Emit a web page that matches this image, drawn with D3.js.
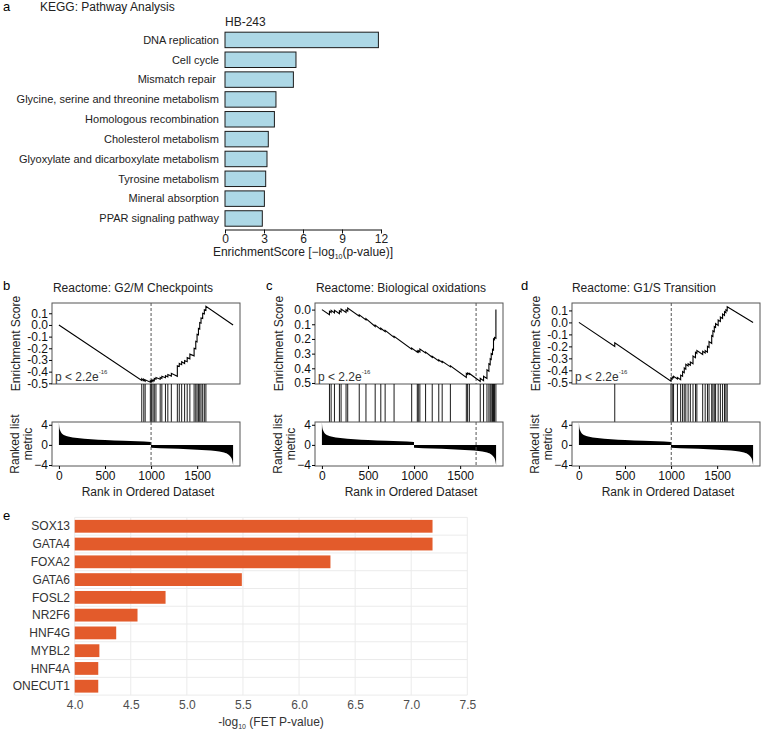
<!DOCTYPE html>
<html>
<head>
<meta charset="utf-8">
<script src="https://cdn.jsdelivr.net/npm/d3@7"></script>
<style>
  body { margin: 0; background: #fff; }
  svg { display: block; font-family: "Liberation Sans", Arial, Helvetica, sans-serif; }
</style>
</head>
<body>
<div id="fig"></div>
<script>
// ---- panel a: KEGG pathways ----
const keggPathways = [
  'DNA replication', 'Cell cycle', 'Mismatch repair ',
  'Glycine, serine and threonine metabolism', 'Homologous recombination',
  'Cholesterol metabolism', 'Glyoxylate and dicarboxylate metabolism',
  'Tyrosine metabolism', 'Mineral absorption', 'PPAR signaling pathway'
];
const keggScores = [11.8, 5.46, 5.26, 3.92, 3.8, 3.33, 3.23, 3.13, 3.03, 2.87];
const keggTicks = [0, 3, 6, 9, 12];

// ---- panel e: TF enrichment ----
const tfNames = ['SOX13', 'GATA4', 'FOXA2', 'GATA6', 'FOSL2', 'NR2F6', 'HNF4G', 'MYBL2', 'HNF4A', 'ONECUT1'];
const tfScores = [7.19, 7.19, 6.28, 5.49, 4.81, 4.56, 4.37, 4.22, 4.21, 4.21];
const tfTicks = [4.0, 4.5, 5.0, 5.5, 6.0, 6.5, 7.0, 7.5];

// ---- GSEA shared: ranked list metric ----
const rankTicks = [0, 500, 1000, 1500];
const metricRanks  = [0, 5, 15, 30, 60, 100, 200, 350, 500, 700, 999, 1000, 1200, 1400, 1600, 1700, 1780, 1830, 1860, 1880, 1890];
const metricValues = [4.5, 3.4, 2.8, 2.3, 1.9, 1.65, 1.35, 1.1, 0.95, 0.8, 0.55, -0.55, -0.7, -0.85, -1.05, -1.2, -1.45, -1.8, -2.3, -3.0, -4.0];
const metricTicks = [4, 0, -4];

// ---- panel b: G2/M checkpoints ----
const g2mHits = [899, 921, 936, 992, 1006, 1021, 1035, 1053, 1099, 1117, 1156, 1182, 1220, 1285,
  1306, 1332, 1364, 1392, 1421, 1467, 1485, 1499, 1514, 1528, 1542, 1560, 1578, 1595];
const g2mCurve = [
  [0, 0], [899, -0.475], [899, -0.462], [921, -0.478], [921, -0.466], [936, -0.48], [936, -0.47],
  [992, -0.49], [992, -0.478], [1006, -0.488], [1006, -0.474], [1021, -0.484], [1021, -0.47],
  [1035, -0.478], [1035, -0.458], [1053, -0.465], [1053, -0.45], [1099, -0.465], [1099, -0.45],
  [1117, -0.458], [1117, -0.44], [1156, -0.452], [1156, -0.435], [1182, -0.445], [1182, -0.425],
  [1220, -0.438], [1220, -0.415], [1285, -0.44], [1285, -0.35], [1306, -0.356], [1306, -0.33],
  [1332, -0.34], [1332, -0.315], [1364, -0.33], [1364, -0.305], [1392, -0.315], [1392, -0.28],
  [1421, -0.29], [1421, -0.25], [1467, -0.265], [1467, -0.2], [1485, -0.205], [1485, -0.14],
  [1499, -0.145], [1499, -0.08], [1514, -0.085], [1514, -0.03], [1528, -0.035], [1528, 0.02],
  [1542, 0.015], [1542, 0.06], [1560, 0.055], [1560, 0.1], [1578, 0.095], [1578, 0.13],
  [1595, 0.125], [1595, 0.16], [1890, 0.0]
];
const g2mTicks = [0.1, 0, -0.1, -0.2, -0.3, -0.4, -0.5];
const g2mLabels = ['0.1', '0.0', '-0.1', '-0.2', '-0.3', '-0.4', '-0.5'];

// ---- panel c: biological oxidations ----
const bioOxHits = [82, 100, 136, 190, 208, 262, 280, 405, 478, 578, 639, 686, 783, 974, 1035, 1046,
  1063, 1125, 1197, 1268, 1305, 1394, 1567, 1581, 1600, 1718, 1754, 1791, 1812, 1826, 1837,
  1851, 1862, 1873, 1888];
const bioOxCurve = [
  [0, 0], [82, -0.035], [82, -0.012], [100, -0.02], [100, -0.005], [136, -0.022], [136, -0.004],
  [190, -0.028], [190, -0.008], [208, -0.016], [208, 0.004], [262, -0.02], [262, -0.002],
  [280, -0.01], [280, 0.01], [405, -0.045], [405, -0.035], [478, -0.07], [478, -0.062],
  [578, -0.115], [578, -0.105], [639, -0.135], [639, -0.127], [686, -0.15], [686, -0.142],
  [783, -0.19], [783, -0.182], [974, -0.27], [974, -0.262], [1035, -0.29], [1035, -0.283],
  [1046, -0.29], [1046, -0.28], [1063, -0.288], [1063, -0.268], [1125, -0.295], [1125, -0.29],
  [1197, -0.325], [1197, -0.318], [1268, -0.35], [1268, -0.342], [1305, -0.36], [1305, -0.352],
  [1394, -0.39], [1394, -0.383], [1567, -0.462], [1567, -0.435], [1581, -0.442], [1581, -0.432],
  [1600, -0.44], [1600, -0.435], [1718, -0.49], [1718, -0.468], [1754, -0.484], [1754, -0.455],
  [1791, -0.47], [1791, -0.41], [1812, -0.42], [1812, -0.37], [1826, -0.376], [1826, -0.335],
  [1837, -0.34], [1837, -0.3], [1851, -0.306], [1851, -0.27], [1862, -0.275], [1862, -0.2],
  [1873, -0.205], [1873, -0.19], [1888, -0.195], [1888, 0.0]
];
const bioOxTicks = [0, -0.1, -0.2, -0.3, -0.4, -0.5];
const bioOxLabels = ['0.0', '0.1', '0.2', '0.3', '0.4', '0.5'];

// ---- panel d: G1/S transition ----
const g1sHits = [389, 999, 1013, 1027, 1069, 1104, 1125, 1143, 1160, 1185, 1209, 1238, 1265, 1280,
  1343, 1370, 1395, 1412, 1441, 1454, 1469, 1483, 1511, 1535, 1559, 1580, 1595, 1609];
const g1sCurve = [
  [0, 0], [389, -0.2], [389, -0.17], [999, -0.49], [999, -0.465], [1013, -0.472], [1013, -0.455],
  [1027, -0.462], [1027, -0.45], [1069, -0.472], [1069, -0.46], [1104, -0.478], [1104, -0.44],
  [1125, -0.45], [1125, -0.41], [1143, -0.42], [1143, -0.38], [1160, -0.39], [1160, -0.35],
  [1185, -0.363], [1185, -0.345], [1209, -0.357], [1209, -0.33], [1238, -0.345], [1238, -0.28],
  [1265, -0.294], [1265, -0.25], [1280, -0.258], [1280, -0.235], [1343, -0.268], [1343, -0.24],
  [1370, -0.254], [1370, -0.235], [1395, -0.248], [1395, -0.2], [1412, -0.209], [1412, -0.16],
  [1441, -0.175], [1441, -0.11], [1454, -0.117], [1454, -0.07], [1469, -0.078], [1469, -0.035],
  [1483, -0.042], [1483, -0.01], [1511, -0.025], [1511, 0.02], [1535, 0.008], [1535, 0.045],
  [1559, 0.033], [1559, 0.07], [1580, 0.059], [1580, 0.09], [1595, 0.082], [1595, 0.105],
  [1609, 0.098], [1609, 0.13], [1890, 0.0]
];
const g1sTicks = [0.1, 0, -0.1, -0.2, -0.3, -0.4, -0.5];
const g1sLabels = ['0.1', '0.0', '-0.1', '-0.2', '-0.3', '-0.4', '-0.5'];

const svg = d3.select('#fig').append('svg')
  .attr('width', 763)
  .attr('height', 729);

svg.append('rect').attr('width', 763).attr('height', 729).attr('fill', '#fff');

// ================= panel a =================
svg.append('text').attr('x', 3).attr('y', 11).attr('font-size', 13).text('a');
svg.append('text').attr('x', 40).attr('y', 11).attr('font-size', 12).attr('fill', '#222')
  .text('KEGG: Pathway Analysis');
svg.append('text').attr('x', 225).attr('y', 26).attr('font-size', 12).attr('fill', '#222')
  .text('HB-243');

const xA = d3.scaleLinear().domain([0, 12]).range([225, 381]);
const yA = d3.scaleBand().domain(keggPathways).range([30, 228.4])
  .paddingInner(0.22).paddingOuter(0.11);

const gA = svg.append('g');
gA.selectAll('.bar')
    .data(keggPathways)
  .enter().append('rect')
    .attr('class', 'bar')
    .attr('x', xA(0))
    .attr('y', d => yA(d))
    .attr('width', (d, i) => xA(keggScores[i]) - xA(0))
    .attr('height', yA.bandwidth())
    .attr('fill', '#add8e6')
    .attr('stroke', '#1a1a1a')
    .attr('stroke-width', 1);

gA.selectAll('.lab')
    .data(keggPathways)
  .enter().append('text')
    .attr('class', 'lab')
    .attr('x', 219)
    .attr('y', d => yA(d) + yA.bandwidth() / 2)
    .attr('dy', '0.35em')
    .attr('text-anchor', 'end')
    .attr('font-size', 11)
    .attr('fill', '#222')
    .style('white-space', 'pre')
    .text(d => d);

const axA = gA.append('g')
  .attr('transform', 'translate(0,229.5)')
  .call(d3.axisBottom(xA).tickValues(keggTicks).tickSize(4).tickSizeOuter(0).tickPadding(1));
axA.selectAll('text').attr('font-size', 12).attr('fill', '#222').attr('font-family', null);
axA.selectAll('line, path').attr('stroke', '#111');

const titleA = gA.append('text')
  .attr('x', 303).attr('y', 256)
  .attr('text-anchor', 'middle')
  .attr('font-size', 12)
  .attr('fill', '#222');
titleA.append('tspan').text('EnrichmentScore [\u2212log');
titleA.append('tspan').attr('font-size', 7).attr('dy', 3).text('10');
titleA.append('tspan').attr('dy', -3).text('(p-value)]');

// ================= panels b, c, d =================
const upperTop = 303, upperBot = 384, lowerTop = 422, lowerBot = 466, panelW = 188;

function drawGsea(opts) {
  const g = svg.append('g');
  const x = d3.scaleLinear().domain([-75, 1965]).range([opts.x0, opts.x0 + panelW]);
  const yEs = d3.scaleLinear().domain(opts.esDomain).range([upperBot, upperTop]);
  const yMetric = d3.scaleLinear().domain([-4.2, 4.55]).range([lowerBot, lowerTop]);

  g.append('text').attr('x', opts.letterX).attr('y', 290).attr('font-size', 13).text(opts.letter);
  g.append('text')
    .attr('x', opts.titleX).attr('y', 292)
    .attr('text-anchor', 'middle')
    .attr('font-size', 12)
    .attr('fill', '#222')
    .text(opts.title);

  // running enrichment score
  const line = d3.line()
    .x(d => x(d[0]))
    .y(d => yEs(d[1]));

  g.append('line')
    .attr('x1', x(opts.split)).attr('x2', x(opts.split))
    .attr('y1', upperTop).attr('y2', upperBot)
    .attr('stroke', '#555').attr('stroke-dasharray', '3,2');

  g.append('path')
    .attr('d', line(opts.curve))
    .attr('fill', 'none')
    .attr('stroke', '#000')
    .attr('stroke-width', 1.1);

  g.append('rect')
    .attr('x', opts.x0).attr('y', upperTop)
    .attr('width', panelW).attr('height', upperBot - upperTop)
    .attr('fill', 'none').attr('stroke', '#555');

  const axEs = g.append('g')
    .attr('transform', `translate(${opts.x0},0)`)
    .call(d3.axisLeft(yEs).tickValues(opts.esTicks).tickSize(3).tickPadding(1)
      .tickFormat((d, i) => opts.esLabels[i]));
  axEs.select('.domain').remove();
  axEs.selectAll('text').attr('font-size', 12).attr('fill', '#111').attr('font-family', null);

  const pText = g.append('text')
    .attr('x', opts.x0 + 3).attr('y', upperBot - 3)
    .attr('font-size', 12)
    .attr('fill', '#333');
  pText.append('tspan').text('p < 2.2e');
  pText.append('tspan').attr('font-size', 6).attr('dy', -7).text('-16');

  g.append('text')
    .attr('transform', `translate(${opts.x0 - 32},${(upperTop + upperBot) / 2}) rotate(-90)`)
    .attr('text-anchor', 'middle')
    .attr('font-size', 12)
    .attr('fill', '#222')
    .text('Enrichment Score');

  // gene hits
  g.selectAll('.hit')
      .data(opts.hits)
    .enter().append('line')
      .attr('class', 'hit')
      .attr('x1', d => x(d)).attr('x2', d => x(d))
      .attr('y1', upperBot).attr('y2', lowerTop)
      .attr('stroke', '#000')
      .attr('stroke-width', 0.9);

  // ranked list metric
  const area = d3.area()
    .x((d, i) => x(metricRanks[i]))
    .y0(yMetric(0))
    .y1(d => yMetric(d))
    .curve(d3.curveMonotoneX);

  g.append('path')
    .attr('d', area(metricValues))
    .attr('fill', '#000');

  g.append('line')
    .attr('x1', x(opts.split)).attr('x2', x(opts.split))
    .attr('y1', lowerTop).attr('y2', lowerBot)
    .attr('stroke', '#555').attr('stroke-dasharray', '3,2');

  g.append('rect')
    .attr('x', opts.x0).attr('y', lowerTop)
    .attr('width', panelW).attr('height', lowerBot - lowerTop)
    .attr('fill', 'none').attr('stroke', '#555');

  const axM = g.append('g')
    .attr('transform', `translate(${opts.x0},0)`)
    .call(d3.axisLeft(yMetric).tickValues(metricTicks).tickSize(3).tickPadding(1));
  axM.select('.domain').remove();
  axM.selectAll('text').attr('font-size', 12).attr('fill', '#111').attr('font-family', null);

  const axR = g.append('g')
    .attr('transform', `translate(0,${lowerBot})`)
    .call(d3.axisBottom(x).tickValues(rankTicks).tickSize(3).tickPadding(2).tickFormat(d3.format('d')));
  axR.select('.domain').remove();
  axR.selectAll('text').attr('font-size', 12).attr('fill', '#111').attr('font-family', null);

  const yLab = g.append('text')
    .attr('transform', `translate(${opts.x0 - 32},${(lowerTop + lowerBot) / 2}) rotate(-90)`)
    .attr('text-anchor', 'middle')
    .attr('font-size', 12)
    .attr('fill', '#222');
  yLab.append('tspan').attr('x', 0).attr('dy', -1).text('Ranked list');
  yLab.append('tspan').attr('x', 0).attr('dy', 13).text('metric');

  g.append('text')
    .attr('x', opts.x0 + panelW / 2 + 2).attr('y', 496)
    .attr('text-anchor', 'middle')
    .attr('font-size', 12)
    .attr('fill', '#222')
    .text('Rank in Ordered Dataset');
}

drawGsea({
  x0: 52, letter: 'b', letterX: 3, title: 'Reactome: G2/M Checkpoints', titleX: 133,
  curve: g2mCurve, hits: g2mHits, esDomain: [-0.506, 0.188],
  esTicks: g2mTicks, esLabels: g2mLabels, split: 1000
});
drawGsea({
  x0: 315, letter: 'c', letterX: 266, title: 'Reactome: Biological oxidations', titleX: 401,
  curve: bioOxCurve, hits: bioOxHits, esDomain: [-0.507, 0.045],
  esTicks: bioOxTicks, esLabels: bioOxLabels, split: 1673
});
drawGsea({
  x0: 572, letter: 'd', letterX: 521, title: 'Reactome: G1/S Transition', titleX: 644,
  curve: g1sCurve, hits: g1sHits, esDomain: [-0.514, 0.162],
  esTicks: g1sTicks, esLabels: g1sLabels, split: 1002
});

// ================= panel e =================
svg.append('text').attr('x', 3).attr('y', 520).attr('font-size', 13).text('e');

const xE = d3.scaleLinear().domain([4, 7.5]).range([74.7, 467.3]);
const yE = d3.scaleBand().domain(tfNames).range([517.4, 695.1])
  .paddingInner(0.28).paddingOuter(0.14);

const gE = svg.append('g');
const rowEdges = d3.range(tfNames.length + 1).map(i => yE.range()[0] + i * yE.step());

gE.selectAll('.hgrid')
    .data(rowEdges)
  .enter().append('line')
    .attr('class', 'hgrid')
    .attr('x1', xE(4)).attr('x2', xE(7.5))
    .attr('y1', d => d).attr('y2', d => d)
    .attr('stroke', '#ebebeb').attr('stroke-width', 1);

gE.selectAll('.vgrid')
    .data(tfTicks)
  .enter().append('line')
    .attr('class', 'vgrid')
    .attr('x1', d => xE(d)).attr('x2', d => xE(d))
    .attr('y1', yE.range()[0]).attr('y2', yE.range()[1])
    .attr('stroke', '#ebebeb').attr('stroke-width', 1);

gE.selectAll('.bar')
    .data(tfNames)
  .enter().append('rect')
    .attr('class', 'bar')
    .attr('x', xE(4))
    .attr('y', d => yE(d))
    .attr('width', (d, i) => xE(tfScores[i]) - xE(4))
    .attr('height', yE.bandwidth())
    .attr('fill', '#e35b2b');

gE.selectAll('.lab')
    .data(tfNames)
  .enter().append('text')
    .attr('class', 'lab')
    .attr('x', 70)
    .attr('y', d => yE(d) + yE.bandwidth() / 2)
    .attr('dy', '0.35em')
    .attr('text-anchor', 'end')
    .attr('font-size', 12)
    .attr('fill', '#333')
    .text(d => d);

const axE = gE.append('g')
  .attr('transform', `translate(0,${yE.range()[1]})`)
  .call(d3.axisBottom(xE).tickValues(tfTicks).tickSize(0).tickPadding(5).tickFormat(d3.format('.1f')));
axE.select('.domain').remove();
axE.selectAll('text').attr('font-size', 12).attr('fill', '#4d4d4d').attr('font-family', null);

const titleE = gE.append('text')
  .attr('x', (xE(4) + xE(7.5)) / 2).attr('y', 726)
  .attr('text-anchor', 'middle')
  .attr('font-size', 12)
  .attr('fill', '#333');
titleE.append('tspan').text('-log');
titleE.append('tspan').attr('font-size', 7).attr('dy', 3).text('10');
titleE.append('tspan').attr('dy', -3).text(' (FET P-value)');
</script>
</body>
</html>
